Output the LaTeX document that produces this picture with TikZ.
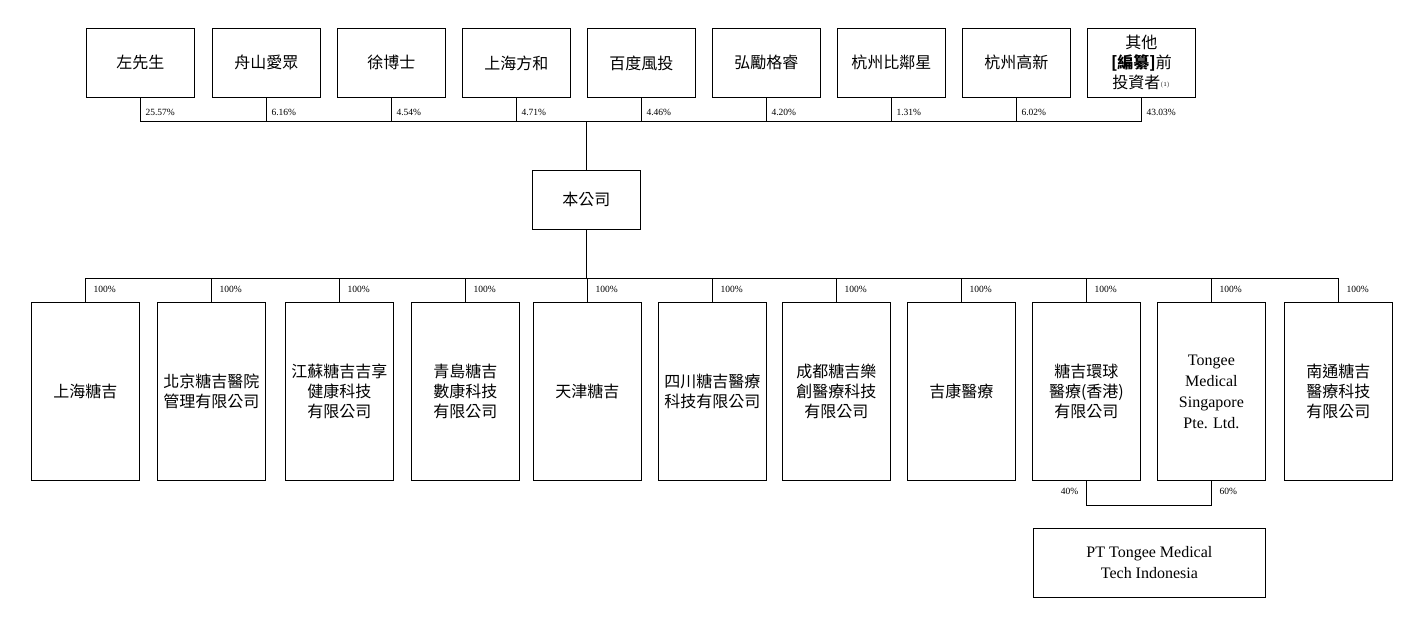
\documentclass[tikz,border=0pt]{standalone}
\usetikzlibrary{calc}
\usepackage{fontspec}
\setmainfont{Liberation Serif}
\newfontfamily\cjk{Noto Sans CJK TC}
\begin{document}
\begin{tikzpicture}[x=1pt,y=-1pt,
  box/.style={draw,line width=0.8pt,minimum width=108pt,anchor=north west,inner sep=0pt,align=center,font=\cjk\fontsize{16}{20}\selectfont},
  pct/.style={font=\fontsize{9.5}{10}\selectfont,anchor=west,inner sep=1pt},
  ln/.style={line width=0.7pt}]
\useasboundingbox (0,0) rectangle (1419,621);
% top shareholders
\foreach \n/\x/\t/\p in {t1/86/左先生/25.57\%,t2/212/舟山愛眾/6.16\%,t3/337/徐博士/4.54\%,t4/462/上海方和/4.71\%,t5/587/百度風投/4.46\%,t6/712/弘勵格睿/4.20\%,t7/837/杭州比鄰星/1.31\%,t8/962/杭州高新/6.02\%}{
  \node[box,minimum height=69pt] (\n) at (\x,28) {\t};
  \draw[ln] (\n.south) -- ++(0,24) coordinate (\n c);
  \node[pct] at ([xshift=4pt,yshift=9pt]\n c) {\p};
}
\node[box,minimum height=69pt] (t9) at (1087,28) {其他\\{\bfseries[編纂]}前\\投資者{\fontsize{8}{8}\selectfont\rmfamily$^{(1)}$}};
\draw[ln] (t9.south) -- ++(0,24) coordinate (t9c);
\node[pct] at ([xshift=4pt,yshift=9pt]t9c) {43.03\%};
\draw[ln] (t1c) -- (t9c);
\node[box,minimum height=59pt] (co) at (532,170) {本公司};
\draw[ln] (co.north |- t1c) -- (co.north);
% subsidiaries
\foreach \n/\x/\t in {s1/31/上海糖吉,s2/157/北京糖吉醫院\\管理有限公司,s3/285/江蘇糖吉吉享\\健康科技\\有限公司,s4/411/青島糖吉\\數康科技\\有限公司,s5/533/天津糖吉,s6/658/四川糖吉醫療\\科技有限公司,s7/782/成都糖吉樂\\創醫療科技\\有限公司,s8/907/吉康醫療,s9/1032/糖吉環球\\醫療(香港)\\有限公司,s11/1284/南通糖吉\\醫療科技\\有限公司}{
  \node[box,minimum height=178pt] (\n) at (\x,302) {\t};
  \draw[ln] (\n.north) -- ++(0,-24) coordinate (\n c);
  \node[pct] at ([xshift=7pt,yshift=-11pt]\n c) {100\%};
}
\node[box,minimum height=178pt,font=\fontsize{16}{21}\selectfont] (s10) at (1157,302) {Tongee\\Medical\\Singapore\\Pte. Ltd.};
\draw[ln] (s10.north) -- ++(0,-24) coordinate (s10c);
\node[pct] at ([xshift=7pt,yshift=-11pt]s10c) {100\%};
\draw[ln] (s1c) -- (s11c);
\draw[ln] (co.south) -- (co.south |- s1c);
% PT
\node[box,minimum width=232pt,minimum height=69pt,font=\fontsize{16}{21}\selectfont] (pt) at (1033,528) {PT Tongee Medical\\Tech Indonesia};
\draw[ln] (s9.south) -- ++(0,25) coordinate (a) -- (a -| s10.south) -- (s10.south);
\draw[ln] ($(a)!0.5!(a -| s10.south)$) -- ($(a)!0.5!(a -| s10.south)$ |- pt.north);
\node[pct,anchor=east] at ([xshift=-7pt,yshift=14pt]a) {40\%};
\node[pct] at ([xshift=7pt,yshift=14pt]a -| s10.south) {60\%};
\end{tikzpicture}
\end{document}
